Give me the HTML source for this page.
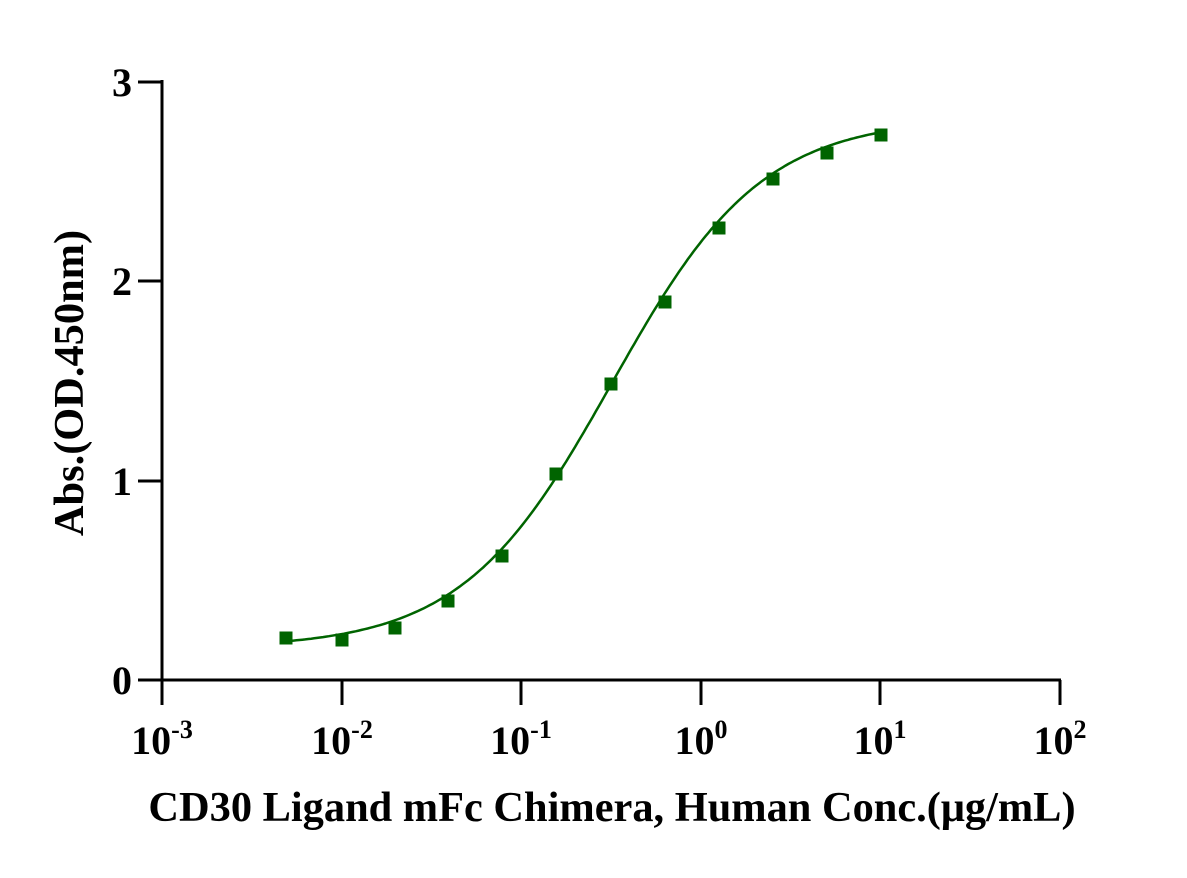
<!DOCTYPE html><html><head><style>body{margin:0;background:#fff}svg text{font-family:"Liberation Serif",serif;font-weight:bold;fill:#000}</style></head><body>
<svg width="1187" height="873" xmlns="http://www.w3.org/2000/svg">
<g stroke="#000" stroke-width="3" fill="none">
<line x1="162" y1="80" x2="162" y2="705"/>
<line x1="138" y1="680" x2="1061" y2="680"/>
<line x1="138" y1="82" x2="162" y2="82"/><line x1="138" y1="281" x2="162" y2="281"/><line x1="138" y1="481" x2="162" y2="481"/>
<line x1="342" y1="680" x2="342" y2="705"/><line x1="521" y1="680" x2="521" y2="705"/><line x1="701" y1="680" x2="701" y2="705"/><line x1="880" y1="680" x2="880" y2="705"/><line x1="1060" y1="680" x2="1060" y2="705"/>
</g>
<g font-size="40" text-anchor="end">
<text x="132" y="96">3</text><text x="132" y="295">2</text><text x="132" y="495">1</text><text x="132" y="694">0</text>
</g>
<g font-size="40" text-anchor="middle">
<text x="162" y="754">10<tspan font-size="26" dy="-16">-3</tspan></text>
<text x="342" y="754">10<tspan font-size="26" dy="-16">-2</tspan></text>
<text x="521" y="754">10<tspan font-size="26" dy="-16">-1</tspan></text>
<text x="701" y="754">10<tspan font-size="26" dy="-16">0</tspan></text>
<text x="880" y="754">10<tspan font-size="26" dy="-16">1</tspan></text>
<text x="1060" y="754">10<tspan font-size="26" dy="-16">2</tspan></text>
</g>
<text x="612" y="821" font-size="42.4" text-anchor="middle">CD30 Ligand mFc Chimera, Human Conc.(μg/mL)</text>
<text transform="translate(83,383) rotate(-90)" font-size="42.4" text-anchor="middle">Abs.(OD.450nm)</text>
<path id="c" fill="none" stroke="#006400" stroke-width="2.5"/>
<g id="m" fill="#006400"></g>
</svg>
<script>
var X=function(c){return 162+(Math.log10(c)+3)*179.6},Y=function(v){return 680-v*199.3};
var d="";for(var i=0;i<=200;i++){var l=Math.log10(0.005)+i/200*(1-Math.log10(0.005));var c=Math.pow(10,l);var v=0.16+2.66/(1+Math.pow(0.32/c,1.04));d+=(i?"L":"M")+X(c).toFixed(1)+","+Y(v).toFixed(1);}
document.getElementById("c").setAttribute("d",d);
var pts=[[286,638],[342,640],[395,628],[448,601],[502,556],[556,474],[611,384],[665,302],[719,228],[773,179],[827,153],[881,135]];
var g=document.getElementById("m"),s="";pts.forEach(function(p){s+='<rect x="'+(p[0]-6.5)+'" y="'+(p[1]-6.5)+'" width="13" height="13"/>'});g.innerHTML=s;
</script>
</body></html>
